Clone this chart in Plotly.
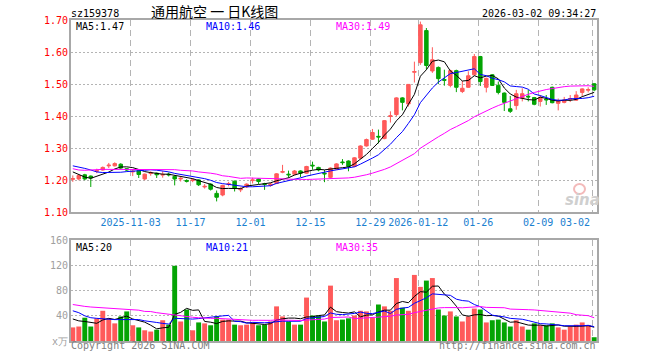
import plotly.graph_objects as go
import pandas as pd

# ---------------- data ----------------
opens = [1.203,1.204,1.217,1.213,1.228,1.232,1.245,1.245,1.250,1.236,
         1.226,1.230,1.204,1.221,1.222,1.216,1.219,1.212,1.204,1.199,
         1.199,1.201,1.179,1.188,1.159,1.154,1.187,1.197,1.170,1.179,
         1.199,1.204,1.189,1.184,1.190,1.225,1.219,1.219,1.229,1.222,
         1.247,1.240,1.222,1.209,1.235,1.257,1.260,1.243,1.269,1.307,
         1.328,1.337,1.330,1.399,1.405,1.457,1.438,1.537,1.567,1.667,
         1.541,1.552,1.514,1.496,1.542,1.477,1.490,1.529,1.586,1.490,
         1.529,1.496,1.472,1.423,1.433,1.456,1.462,1.458,1.446,1.453,
         1.490,1.440,1.443,1.453,1.450,1.474,1.481,1.501]
highs = [1.215,1.218,1.220,1.215,1.236,1.243,1.254,1.256,1.253,1.238,
         1.235,1.232,1.221,1.228,1.224,1.228,1.224,1.215,1.210,1.203,
         1.206,1.203,1.188,1.190,1.168,1.186,1.195,1.199,1.178,1.190,
         1.208,1.206,1.192,1.192,1.222,1.248,1.230,1.232,1.231,1.245,
         1.258,1.242,1.232,1.240,1.253,1.266,1.262,1.272,1.309,1.330,
         1.360,1.358,1.388,1.415,1.459,1.459,1.500,1.570,1.695,1.675,
         1.615,1.555,1.545,1.545,1.545,1.510,1.540,1.594,1.588,1.520,
         1.531,1.508,1.474,1.463,1.482,1.487,1.482,1.460,1.466,1.466,
         1.492,1.455,1.460,1.466,1.478,1.487,1.490,1.503]
lows = [1.195,1.200,1.200,1.179,1.222,1.230,1.238,1.243,1.235,1.228,
        1.213,1.207,1.200,1.214,1.207,1.208,1.212,1.184,1.196,1.193,
        1.194,1.182,1.174,1.168,1.134,1.150,1.181,1.165,1.163,1.176,
        1.190,1.188,1.170,1.180,1.188,1.222,1.208,1.216,1.210,1.220,
        1.233,1.228,1.194,1.205,1.233,1.248,1.228,1.241,1.267,1.305,
        1.326,1.315,1.328,1.380,1.400,1.418,1.430,1.505,1.560,1.545,
        1.535,1.500,1.495,1.490,1.475,1.472,1.488,1.527,1.494,1.474,
        1.494,1.468,1.416,1.410,1.420,1.446,1.446,1.434,1.430,1.435,
        1.440,1.418,1.440,1.444,1.448,1.462,1.474,1.478]
closes = [1.205,1.215,1.204,1.207,1.230,1.240,1.247,1.252,1.238,1.232,
          1.228,1.218,1.219,1.223,1.217,1.218,1.217,1.204,1.206,1.197,
          1.201,1.186,1.181,1.172,1.147,1.184,1.189,1.175,1.174,1.188,
          1.201,1.196,1.187,1.188,1.220,1.227,1.217,1.229,1.222,1.243,
          1.245,1.232,1.220,1.238,1.251,1.255,1.243,1.270,1.307,1.327,
          1.349,1.335,1.386,1.401,1.457,1.443,1.499,1.539,1.685,1.558,
          1.576,1.517,1.512,1.542,1.490,1.487,1.526,1.586,1.508,1.518,
          1.496,1.474,1.443,1.415,1.470,1.470,1.460,1.437,1.459,1.451,
          1.442,1.448,1.450,1.455,1.466,1.485,1.483,1.482]
volumes = [21.6,23,37,23,36,48,36,28,39,47,
           25,21.6,17,15,18,33,26,119.5,31,50,
           17,29.5,28,25,39,34,34,26,25,26,
           29.5,25,26,31,55,39,31,26,26,69,
           40.5,40.5,31,88,33,34,36,40.5,48,47,
           37,58,55,48,100,53,48,105,86,96,
           100,50,40.5,47,39,31,39,51.5,50,29.5,
           33,34,29.5,23,33,23,18,28,25,25,
           28,21.6,18,23,26,29.5,25,6]

# moving-average values at the start of the window (they use earlier history)
ma5_head = [1.226,1.218,1.210,1.206]
ma10_head = [1.245,1.242,1.237,1.232,1.226,1.224,1.224,1.224,1.225]
ma30_head = [1.236,1.232,1.231,1.231,1.233,1.234,1.234,1.234,1.234,1.235,
             1.235,1.235,1.235,1.235,1.235,1.235,1.235,1.233,1.231,1.231,
             1.229,1.226,1.225,1.222,1.219,1.214,1.212,1.209,1.206]
vma5_head = [35,32,31,29]
vma10_head = [48,45,40,37,36,35,34,34,34]
vma30_head = [58,56,55,54,53.5,52,51.6,51.6,51.6,50,
              49.4,49,47,46.8,45,43.6,43,41,40,38.5,
              37.7,37,36,36,36,35.5,34.5,34,34]

tick_idx = [10,20,30,40,50,58,68,78,87]
tick_labels = ["2025-11-03","11-17","12-01","12-15","12-29","2026-01-12","01-26","02-09","03-02"]
price_ticks = [1.10,1.20,1.30,1.40,1.50,1.60,1.70]
vol_ticks = [0,40,80,120,160]
vol_tick_labels = ["x万","40","80","120","160"]

# ---------------- derived ----------------
n = len(closes)
xs = list(range(n))

def ma(values, w, head):
    s = pd.Series(values).rolling(w).mean().tolist()
    return head + s[len(head):]

ma5 = ma(closes, 5, ma5_head)
ma10 = ma(closes, 10, ma10_head)
ma30 = ma(closes, 30, ma30_head)
vma5 = ma(volumes, 5, vma5_head)
vma10 = ma(volumes, 10, vma10_head)
vma30 = ma(volumes, 30, vma30_head)

RED = "#ff5a5a"
GREEN = "#04a404"
vcolors = [RED if c >= o else GREEN for o, c in zip(opens, closes)]

W, H = 660, 360
L, R, T, B = 71, 63, 20, 19
PW, PH = W - L - R, H - T - B
def px(x):
    return (x - L) / PW
def py(y):
    return (H - B - y) / PH

MONO = "DejaVu Sans Mono"

fig = go.Figure()
fig.add_trace(go.Candlestick(
    x=xs, open=opens, high=highs, low=lows, close=closes,
    increasing=dict(line=dict(color=RED, width=1), fillcolor=RED),
    decreasing=dict(line=dict(color=GREEN, width=1), fillcolor=GREEN),
    whiskerwidth=0, xaxis="x", yaxis="y", showlegend=False, hoverinfo="skip"))
for vals, col in [(ma5, "#000000"), (ma10, "#0000ff"), (ma30, "#ff00ff")]:
    fig.add_trace(go.Scatter(x=xs, y=vals, mode="lines", line=dict(color=col, width=1),
                             xaxis="x", yaxis="y", showlegend=False, hoverinfo="skip"))
fig.add_trace(go.Bar(x=xs, y=volumes, marker=dict(color=vcolors, line=dict(width=0)),
                     width=0.82, xaxis="x2", yaxis="y2", showlegend=False, hoverinfo="skip"))
for vals, col in [(vma5, "#000000"), (vma10, "#0000ff"), (vma30, "#ff00ff")]:
    fig.add_trace(go.Scatter(x=xs, y=vals, mode="lines", line=dict(color=col, width=1),
                             xaxis="x2", yaxis="y2", showlegend=False, hoverinfo="skip"))

xr = [-0.3, 87.47]
grid_x = [i - 0.35 for i in tick_idx]
border = "#a8a8a8"
common_x = dict(range=xr, tickvals=grid_x, showgrid=True, gridcolor="#b4b4b4",
                griddash="6px,4px", gridwidth=1, zeroline=False, showline=True,
                linecolor=border, linewidth=2, mirror=True, ticks="", fixedrange=True)

fig.update_layout(
    width=W, height=H, margin=dict(l=L, r=R, t=T, b=B),
    paper_bgcolor="white", plot_bgcolor="white",
    font=dict(family=MONO, size=10, color="#000"),
    boxgap=0.17, bargap=0.17, hovermode=False,
    xaxis=dict(**common_x, domain=[0, 1], anchor="y",
               ticktext=tick_labels[:-1] + [""],
               tickfont=dict(family=MONO, size=10, color="#1a80d0"),
               rangeslider=dict(visible=False)),
    yaxis=dict(domain=[py(212.3), 1], range=[1.10, 1.70], tickvals=price_ticks,
               ticktext=["%.2f" % v for v in price_ticks],
               tickfont=dict(family=MONO, size=10, color="#ff0000"),
               showgrid=True, gridcolor="#b4b4b4", griddash="2px,2px", zeroline=False,
               showline=True, linecolor=border, linewidth=2, mirror=True, ticks="",
               ticklabelstandoff=-1, fixedrange=True),
    xaxis2=dict(**common_x, domain=[0, 1], anchor="y2", showticklabels=False),
    yaxis2=dict(domain=[0, py(240.3)], range=[0, 160], tickvals=vol_ticks,
                ticktext=vol_tick_labels,
                tickfont=dict(family=MONO, size=10, color="#a0a0a0"),
                showgrid=True, gridcolor="#b4b4b4", griddash="2px,2px", zeroline=False,
                showline=True, linecolor=border, linewidth=2, mirror=True, ticks="",
                ticklabelstandoff=-1, fixedrange=True),
)

def note(text, x, y, color="#000", anchor="left", size=10, family=MONO, **kw):
    fig.add_annotation(text=text, x=px(x), y=py(y), xref="paper", yref="paper",
                       xanchor=anchor, yanchor="middle", showarrow=False,
                       font=dict(family=family, size=size, color=color), **kw)

note("sz159378", 69, 13)
note("通用航空 一 日K线图", 149, 11, size=14, family="Noto Sans CJK SC")
note("2026-03-02 09:34:27", 598, 13, anchor="right")
note("MA5:1.47", 74, 26)
note("MA10:1.46", 204, 26, color="#0000ff")
note("MA30:1.49", 334, 26, color="#ff00ff")
note("MA5:20", 74, 247)
note("MA10:21", 204, 247, color="#0000ff")
note("MA30:35", 334, 247, color="#ff00ff")
note("03-02", 592, 222, color="#1a80d0", anchor="right")
note("Copyright 2026 SINA.COM", 69, 346, color="#808080")
note("http://finance.sina.com.cn", 598, 346, color="#808080", anchor="right")
note("<b><i>sina</i></b>", 582, 200, color="#cfcfcf", anchor="center", size=15, family="DejaVu Sans")
fig.add_shape(type="circle", xref="paper", yref="paper",
              x0=px(574), x1=px(585), y0=py(194), y1=py(184),
              line=dict(color="#f3baba", width=2), fillcolor="rgba(0,0,0,0)")

fig.write_html("out.html", config={"displayModeBar": False, "staticPlot": True},
               post_script="document.body.style.margin='0';")
